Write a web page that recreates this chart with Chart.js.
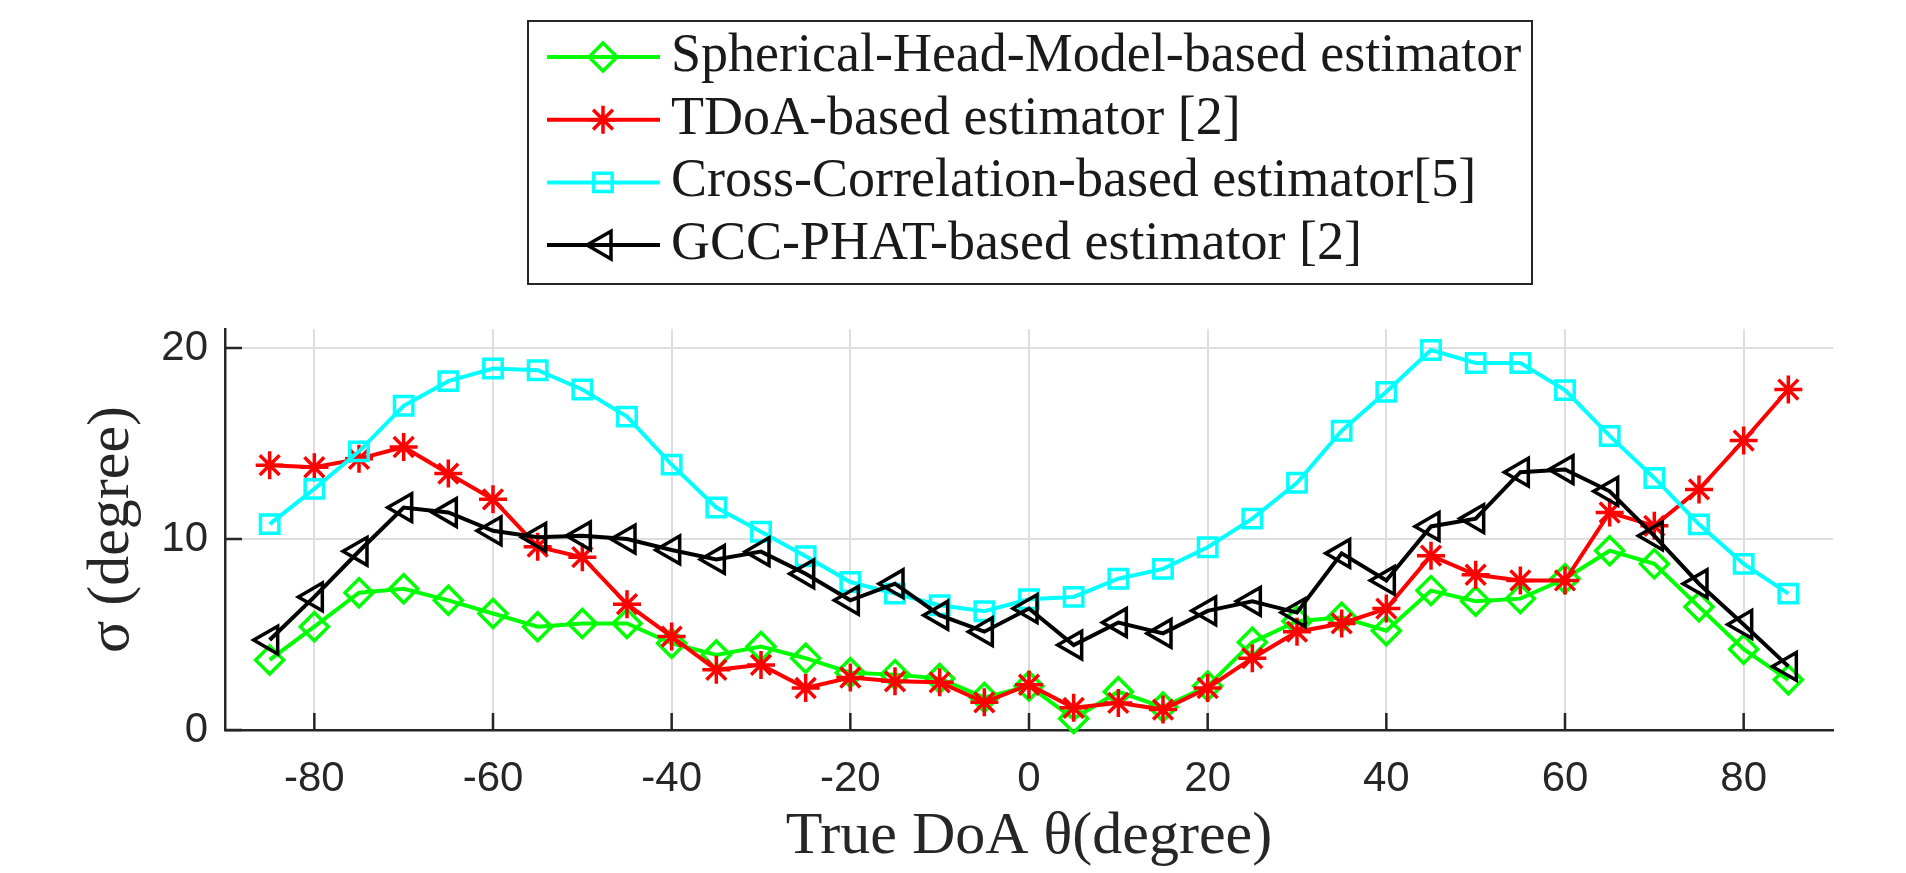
<!DOCTYPE html>
<html lang="en">

<head>
    <meta charset="UTF-8">
    <title>DoA estimation error</title>
    <script src="https://cdn.jsdelivr.net/npm/chart.js"></script>
    <style>
        html, body { margin: 0; padding: 0; background: #fff; }
        #wrap { width: 1906px; height: 873px; }
    </style>
</head>

<body>
    <div id="wrap"><canvas id="doaChart" width="1906" height="873"></canvas></div>

    <script>
        // true direction of arrival (degree)
        const doaDeg = [-85, -80, -75, -70, -65, -60, -55, -50, -45, -40, -35, -30, -25, -20, -15, -10, -5,
            0, 5, 10, 15, 20, 25, 30, 35, 40, 45, 50, 55, 60, 65, 70, 75, 80, 85];

        // sigma (degree) per estimator
        const sphericalHead = [3.67, 5.41, 7.19, 7.40, 6.79, 6.10, 5.41, 5.58, 5.58, 4.54, 3.93, 4.37, 3.76, 3.00, 2.90, 2.70, 1.70,
            2.30, 0.60, 2.00, 1.20, 2.30, 4.60, 5.70, 5.90, 5.20, 7.30, 6.74, 6.88, 7.92, 9.39, 8.70, 6.45, 4.23, 2.63];
        const tdoa = [13.87, 13.76, 14.20, 14.82, 13.43, 12.08, 9.60, 9.05, 6.59, 4.89, 3.15, 3.41, 2.20, 2.75, 2.55, 2.50, 1.45,
            2.37, 1.16, 1.42, 1.07, 2.20, 3.76, 5.15, 5.58, 6.36, 9.13, 8.13, 7.83, 7.83, 11.39, 10.69, 12.60, 15.16, 17.83];
        const crossCorr = [10.78, 12.63, 14.59, 16.98, 18.27, 18.93, 18.84, 17.83, 16.41, 13.90, 11.65, 10.38, 9.10, 7.75, 7.14, 6.53, 6.22,
            6.85, 6.97, 7.92, 8.44, 9.57, 11.07, 12.95, 15.67, 17.71, 19.90, 19.22, 19.22, 17.80, 15.40, 13.20, 10.77, 8.70, 7.14];
        const gccPhat = [4.71, 6.97, 9.36, 11.65, 11.39, 10.43, 10.09, 10.17, 10.00, 9.43, 8.93, 9.34, 8.18, 6.79, 7.66, 6.01, 5.15,
            6.36, 4.45, 5.63, 5.06, 6.24, 6.74, 6.15, 9.25, 7.83, 10.66, 11.07, 13.50, 13.64, 12.50, 10.17, 7.66, 5.53, 3.33];

        const seriesNames = [
            'Spherical-Head-Model-based estimator',
            'TDoA-based estimator [2]',
            'Cross-Correlation-based estimator[5]',
            'GCC-PHAT-based estimator [2]'
        ];
        const xTickVals = [-80, -60, -40, -20, 0, 20, 40, 60, 80];
        const yTickVals = [0, 10, 20];

        const axisColor = '#262626';
        const serif = '"Liberation Serif", "Times New Roman", serif';
        const sans = '"Liberation Sans", Arial, sans-serif';

        function toPoints(vals) {
            return doaDeg.map((d, i) => ({ x: d, y: vals[i] }));
        }

        function makeSet(label, vals, color, style, radius, rotation, order) {
            return {
                label: label,
                data: toPoints(vals),
                borderColor: color,
                borderWidth: 4,
                pointStyle: style,
                pointRadius: radius,
                pointRotation: rotation,
                pointBorderColor: color,
                pointBackgroundColor: 'rgba(0,0,0,0)',
                pointBorderWidth: 3.5,
                tension: 0,
                clip: false,
                order: order
            };
        }

        // own legend: boxed, one entry per row, like the figure
        const boxLegend = {
            id: 'boxLegend',
            afterDraw(chart) {
                const ctx = chart.ctx;
                ctx.save();
                ctx.fillStyle = '#fff';
                ctx.fillRect(528, 21, 1004, 263);
                ctx.strokeStyle = axisColor;
                ctx.lineWidth = 2;
                ctx.strokeRect(528, 21, 1004, 263);
                chart.data.datasets.forEach((ds, row) => {
                    const y = 57 + row * 62.7;
                    ctx.strokeStyle = ds.borderColor;
                    ctx.lineWidth = ds.borderWidth;
                    ctx.beginPath();
                    ctx.moveTo(547, y);
                    ctx.lineTo(660, y);
                    ctx.stroke();
                    ctx.fillStyle = 'rgba(0,0,0,0)';
                    ctx.lineWidth = ds.pointBorderWidth;
                    Chart.helpers.drawPoint(ctx, {
                        pointStyle: ds.pointStyle,
                        rotation: ds.pointRotation,
                        radius: ds.pointRadius,
                        borderWidth: ds.pointBorderWidth
                    }, 603, y);
                    ctx.fillStyle = '#1a1a1a';
                    ctx.font = '54px ' + serif;
                    ctx.textBaseline = 'alphabetic';
                    ctx.textAlign = 'left';
                    ctx.fillText(ds.label, 671, y + 14);
                });
                ctx.restore();
            }
        };

        // MATLAB style tick marks pointing into the axes
        const innerTicks = {
            id: 'innerTicks',
            afterDatasetsDraw(chart) {
                const ctx = chart.ctx;
                const xs = chart.scales.x, ys = chart.scales.y;
                const area = chart.chartArea;
                ctx.save();
                ctx.strokeStyle = axisColor;
                ctx.lineWidth = 2.5;
                ctx.beginPath();
                xTickVals.forEach(v => {
                    const px = xs.getPixelForValue(v);
                    ctx.moveTo(px, area.bottom);
                    ctx.lineTo(px, area.bottom - 17);
                });
                yTickVals.forEach(v => {
                    const py = ys.getPixelForValue(v);
                    ctx.moveTo(area.left, py);
                    ctx.lineTo(area.left + 17, py);
                });
                ctx.stroke();
                ctx.restore();
            }
        };

        const ctx = document.getElementById('doaChart');
        const doaChart = new Chart(ctx, {
            type: 'line',
            data: {
                datasets: [
                    makeSet(seriesNames[0], sphericalHead, '#00ff00', 'rectRot', 14, 0, 3),
                    makeSet(seriesNames[1], tdoa, '#ff0000', 'star', 14, 0, 2),
                    makeSet(seriesNames[2], crossCorr, '#00ffff', 'rect', 13, 0, 1),
                    makeSet(seriesNames[3], gccPhat, '#000000', 'triangle', 16, -90, 0)
                ]
            },
            options: {
                responsive: false,
                devicePixelRatio: 1,
                animation: false,
                layout: { padding: { top: 329, right: 73, left: 0, bottom: 0 } },
                plugins: {
                    legend: { display: false },
                    tooltip: { enabled: false }
                },
                scales: {
                    x: {
                        type: 'linear',
                        min: -90,
                        max: 90,
                        afterBuildTicks: axis => { axis.ticks = xTickVals.map(v => ({ value: v })); },
                        afterFit: axis => { axis.height = 143; },
                        grid: { color: '#dedede', lineWidth: 2, drawTicks: false },
                        border: { color: axisColor, width: 2.5 },
                        ticks: { color: axisColor, padding: 24, maxRotation: 0, font: { family: sans, size: 42 } },
                        title: {
                            display: true,
                            text: 'True DoA θ(degree)',
                            color: axisColor,
                            padding: { top: 0, bottom: 0 },
                            font: { family: serif, size: 60, lineHeight: 1.2 }
                        }
                    },
                    y: {
                        min: 0,
                        max: 21,
                        afterBuildTicks: axis => { axis.ticks = yTickVals.map(v => ({ value: v })); },
                        afterFit: axis => { axis.width = 225; },
                        grid: { color: '#dedede', lineWidth: 2, drawTicks: false },
                        border: { color: axisColor, width: 2.5 },
                        ticks: { color: axisColor, padding: 17, font: { family: sans, size: 42 } },
                        title: {
                            display: true,
                            text: 'σ (degree)',
                            color: axisColor,
                            padding: { top: 76, bottom: 0 },
                            font: { family: serif, size: 60, lineHeight: 1.2 }
                        }
                    }
                }
            },
            plugins: [innerTicks, boxLegend]
        });
    </script>
</body>

</html>
